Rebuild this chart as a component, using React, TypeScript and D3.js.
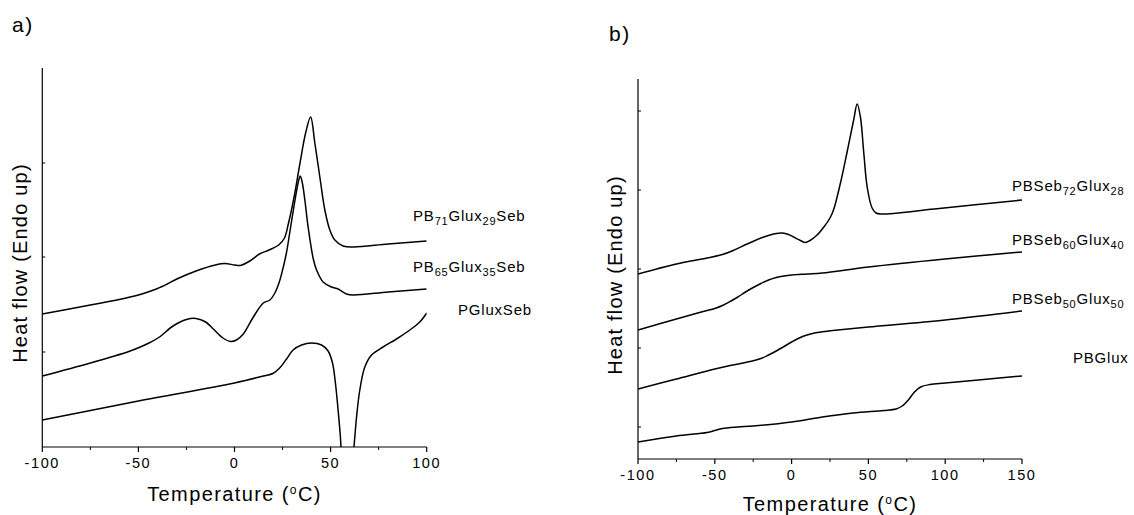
import React from "react";
import * as d3 from "d3";

// ---------- data (temperature °C, heat flow in arbitrary units) ----------
const panelATicksMajor = [-100, -50, 0, 50, 100];
const panelATicksMinor = [-75, -25, 25, 75];
const panelBTicksMajor = [-100, -50, 0, 50, 100, 150];
const panelBTicksMinor = [-75, -25, 25, 75, 125];
const panelAYTicks = [9.5, 19.0, 28.4];
const panelBYTicks = [3.2, 11.1, 19.0, 26.9, 34.8];

const pb71Glux29Seb: [number, number][] = [
  [-100, 13.3], [-75, 14.2], [-60, 14.75], [-50, 15.2], [-45, 15.5], [-40, 15.85], [-35, 16.3],
  [-30, 16.8], [-20, 17.6], [-10, 18.2],
  [-5, 18.35], [0, 18.2], [3, 18.15], [8, 18.6], [13, 19.3], [18, 19.7], [23, 20.2], [26, 20.9],
  [28, 22.3], [31, 25.0], [34, 28.3], [37, 31.4], [39.6, 33.0], [41.8, 30.4], [44.4, 27.0],
  [47, 23.7], [49.6, 21.7], [52.2, 20.7], [56.5, 20.1], [62, 20.0], [80, 20.3], [100, 20.6],
];
const pb65Glux35Seb: [number, number][] = [
  [-100, 7.1], [-75, 8.4], [-55, 9.55], [-49, 10.0], [-44, 10.45], [-39, 11.0], [-32, 12.1],
  [-25, 12.75], [-20, 12.85],
  [-15, 12.5], [-11, 11.8], [-6, 10.9], [-2, 10.55], [1, 10.7], [4.6, 11.3], [9.8, 13.0],
  [15, 14.4], [18.4, 14.7], [21, 15.4], [23.3, 16.5], [25.4, 18.0], [27.1, 19.5], [28.8, 21.5],
  [31.4, 24.6], [33.2, 26.5], [34.2, 27.1], [35.3, 26.4], [36.6, 24.7], [38.3, 22.0], [41, 18.8],
  [42.7, 17.7], [46.1, 16.5], [50.5, 16.0], [53.9, 15.8], [58.3, 15.3], [61.7, 15.2], [80, 15.5],
  [100, 15.8],
];
const pGluxSeb: [number, number][] = [
  [-100, 2.7], [-50, 4.6], [0, 6.4], [15, 7.1], [20, 7.35], [23.5, 7.9], [27.1, 8.8],
  [30.5, 9.7], [34.9, 10.2], [40.1, 10.4], [45.3, 10.2], [48.7, 9.6], [51.0, 8.4], [52.5, 6.4],
  [53.9, 3.7], [55.1, 1.0], [56, -2], [58.5, -6], [61, -2], [62.1, -0.1], [63.5, 3.0],
  [65.2, 5.7], [67.8, 8.0], [71.3, 9.2], [77.3, 10.0], [84.3, 10.8], [91.2, 11.7], [96.4, 12.5],
  [100, 13.4],
];

const pbSeb72Glux28: [number, number][] = [
  [-100, 18.5], [-75, 19.5], [-55, 20.1], [-45, 20.45], [-38, 20.85], [-29, 21.5], [-18, 22.2],
  [-10, 22.55], [-6, 22.6], [-2, 22.45], [1.3, 22.2], [5.7, 21.85], [9, 21.65], [12, 21.85],
  [16.6, 22.4], [21, 23.2], [25, 24.1], [27.5, 25.0], [31.8, 27.6], [36, 30.6], [40.4, 33.9],
  [42.7, 35.5], [44.8, 34.2], [47, 30.6], [49.2, 27.2], [52.4, 25.1], [55, 24.6], [58, 24.5],
  [93, 25.0], [150, 25.9],
];
const pbSeb60Glux40: [number, number][] = [
  [-100, 12.9], [-75, 14.0], [-60, 14.65], [-50, 15.05], [-45, 15.35], [-40, 15.75], [-35, 16.2],
  [-30, 16.7], [-25, 17.15], [-20, 17.55], [-15, 17.9], [-10, 18.15], [-5, 18.3], [0, 18.4],
  [10, 18.5], [20, 18.6], [50, 19.2], [100, 20.0], [150, 20.7],
];
const pbSeb50Glux50: [number, number][] = [
  [-100, 7.0], [-75, 8.0], [-50, 9.0], [-40, 9.35], [-30, 9.65], [-20, 10.05], [-15, 10.4],
  [-10, 10.8], [-5, 11.25], [0, 11.7], [5, 12.1], [10, 12.4], [15, 12.6], [20, 12.72], [30, 12.9],
  [50, 13.2], [100, 13.9], [150, 14.8],
];
const pbGlux: [number, number][] = [
  [-100, 1.7], [-75, 2.3], [-55, 2.65], [-50, 2.85], [-45, 3.05], [-35, 3.2], [-25, 3.3],
  [0, 3.7], [20, 4.2], [40, 4.6], [60, 4.85], [68, 5.0], [72, 5.3], [76, 5.9], [80, 6.7],
  [84, 7.2], [90, 7.45], [100, 7.6], [125, 7.95], [150, 8.3],
];

const FONT = "'Liberation Sans', Arial, Helvetica, sans-serif";

type Part = { t: string; sub?: boolean };

function Label({ x, y, parts }: { x: number; y: number; parts: Part[] }) {
  const nodes: React.ReactNode[] = [];
  let prevSub = false;
  parts.forEach((p, i) => {
    let dy = 0;
    if (p.sub && !prevSub) dy = 4;
    if (!p.sub && prevSub) dy = -4;
    prevSub = !!p.sub;
    nodes.push(
      <tspan key={i} dy={dy} fontSize={p.sub ? 11 : 15}>
        {p.t}
      </tspan>
    );
  });
  return (
    <text x={x} y={y} fontFamily={FONT} fontSize={15} letterSpacing={0.8} fill="#000">
      {nodes}
    </text>
  );
}

type PanelProps = {
  id: string;
  x: d3.ScaleLinear<number, number>;
  y: d3.ScaleLinear<number, number>;
  major: number[];
  minor: number[];
  yTicks: number[];
  series: [number, number][][];
  labelY: number;
  titleY: number;
  yTitleX: number;
  yTitleY: number;
};

function Panel({ id, x, y, major, minor, yTicks, series, labelY, titleY, yTitleX, yTitleY }: PanelProps) {
  const [x0, x1] = x.range();
  const [yb, yt] = y.range();
  const line = d3
    .line<[number, number]>()
    .x((d) => x(d[0]))
    .y((d) => y(d[1]))
    .curve(d3.curveCatmullRom.alpha(0.5));
  return (
    <g>
      <defs>
        <clipPath id={id}>
          <rect x={x0} y={yt} width={x1 - x0} height={yb - yt} />
        </clipPath>
      </defs>
      <g clipPath={`url(#${id})`}>
        {series.map((s, i) => (
          <path key={i} d={line(s) || ""} fill="none" stroke="#000" strokeWidth={1.5} />
        ))}
      </g>
      <line x1={x0} x2={x0} y1={yt} y2={yb} stroke="#000" strokeWidth={1.2} />
      <line x1={x0} x2={x1} y1={yb} y2={yb} stroke="#000" strokeWidth={1.2} />
      {yTicks.map((v) => (
        <line key={"yt" + v} x1={x0} x2={x0 + 3} y1={y(v)} y2={y(v)} stroke="#000" strokeWidth={1} />
      ))}
      {major.map((v) => (
        <g key={"M" + v}>
          <line x1={x(v)} x2={x(v)} y1={yb} y2={yb + 5} stroke="#000" strokeWidth={1.2} />
          <text
            x={x(v)}
            y={labelY}
            textAnchor="middle"
            fontFamily={FONT}
            fontSize={14.5}
            letterSpacing={1.6}
            fill="#000"
          >
            {v}
          </text>
        </g>
      ))}
      {minor.map((v) => (
        <line key={"m" + v} x1={x(v)} x2={x(v)} y1={yb} y2={yb + 3} stroke="#000" strokeWidth={1} />
      ))}
      <text
        x={(x0 + x1) / 2}
        y={titleY}
        textAnchor="middle"
        fontFamily={FONT}
        fontSize={20}
        letterSpacing={1.4}
        fill="#000"
      >
        Temperature (
        <tspan fontSize={12} dy={-7}>
          o
        </tspan>
        <tspan dy={7}>C)</tspan>
      </text>
      <text
        transform={`translate(${yTitleX},${yTitleY}) rotate(-90)`}
        textAnchor="middle"
        fontFamily={FONT}
        fontSize={20}
        letterSpacing={1.2}
        fill="#000"
      >
        Heat flow (Endo up)
      </text>
    </g>
  );
}

export default function App() {
  const xA = d3.scaleLinear().domain([-100, 100]).range([42.3, 426.7]);
  const yA = d3.scaleLinear().domain([0, 37.9]).range([447, 68]);
  const xB = d3.scaleLinear().domain([-100, 150]).range([638, 1022]);
  const yB = d3.scaleLinear().domain([0, 38]).range([459, 79]);

  return (
    <svg
      width={1134}
      height={515}
      style={{ position: "absolute", left: 0, top: 0, background: "#fff" }}
    >
      <rect width={1134} height={515} fill="#fff" />
      <text x={12} y={32} fontFamily={FONT} fontSize={21} letterSpacing={1.5}>
        a)
      </text>
      <text x={609} y={41} fontFamily={FONT} fontSize={21} letterSpacing={1.5}>
        b)
      </text>
      <Panel
        id="clipA"
        x={xA}
        y={yA}
        major={panelATicksMajor}
        minor={panelATicksMinor}
        yTicks={panelAYTicks}
        series={[pb71Glux29Seb, pb65Glux35Seb, pGluxSeb]}
        labelY={468}
        titleY={501}
        yTitleX={27}
        yTitleY={263}
      />
      <Panel
        id="clipB"
        x={xB}
        y={yB}
        major={panelBTicksMajor}
        minor={panelBTicksMinor}
        yTicks={panelBYTicks}
        series={[pbSeb72Glux28, pbSeb60Glux40, pbSeb50Glux50, pbGlux]}
        labelY={480}
        titleY={511}
        yTitleX={622}
        yTitleY={275}
      />
      <Label x={413} y={221} parts={[{ t: "PB" }, { t: "71", sub: true }, { t: "Glux" }, { t: "29", sub: true }, { t: "Seb" }]} />
      <Label x={413} y={272} parts={[{ t: "PB" }, { t: "65", sub: true }, { t: "Glux" }, { t: "35", sub: true }, { t: "Seb" }]} />
      <Label x={458} y={315} parts={[{ t: "PGluxSeb" }]} />
      <Label x={1012} y={191} parts={[{ t: "PBSeb" }, { t: "72", sub: true }, { t: "Glux" }, { t: "28", sub: true }]} />
      <Label x={1012} y={245} parts={[{ t: "PBSeb" }, { t: "60", sub: true }, { t: "Glux" }, { t: "40", sub: true }]} />
      <Label x={1012} y={304} parts={[{ t: "PBSeb" }, { t: "50", sub: true }, { t: "Glux" }, { t: "50", sub: true }]} />
      <Label x={1073} y={363} parts={[{ t: "PBGlux" }]} />
    </svg>
  );
}
